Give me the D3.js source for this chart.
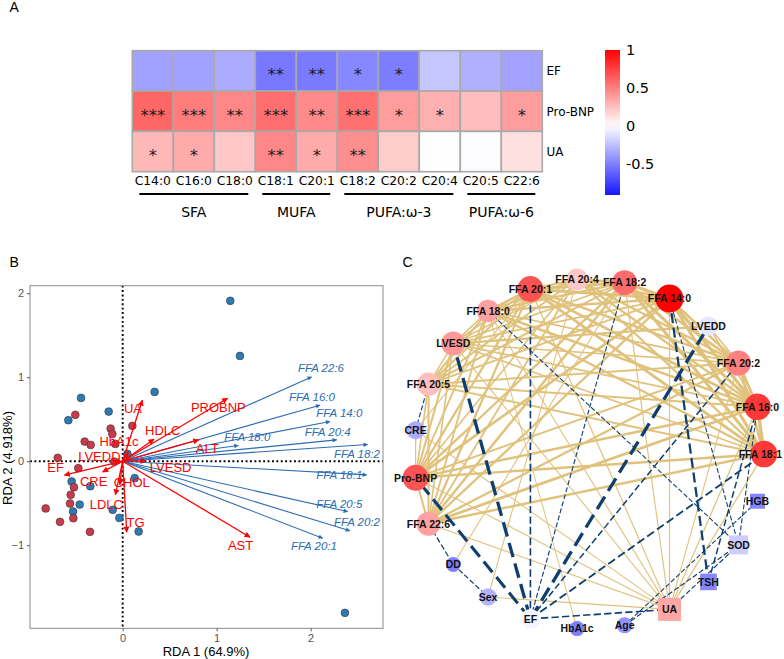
<!DOCTYPE html>
<html lang="en">
<head>
<meta charset="UTF-8">
<style>
    body {margin: 0; background: #ffffff;}
    svg {display: block;}
</style>
</head>
<body>
<div id="fig"></div>
<script src="https://d3js.org/d3.v7.min.js"></script>
<script>

// ---------- panel A : correlation heatmap ----------
var faCols = ["C14:0", "C16:0", "C18:0", "C18:1", "C20:1", "C18:2", "C20:2", "C20:4", "C20:5", "C22:6"];
var faRows = ["EF", "Pro-BNP", "UA"];
var corrEF  = [-0.37, -0.37, -0.33, -0.53, -0.52, -0.47, -0.51, -0.22, -0.31, -0.36];
var corrBNP = [0.60, 0.51, 0.47, 0.57, 0.46, 0.56, 0.39, 0.31, 0.26, 0.39];
var corrUA  = [0.28, 0.33, 0.22, 0.47, 0.33, 0.44, 0.20, 0.005, -0.01, 0.12];
var starsEF  = ["", "", "", "**", "**", "*", "*", "", "", ""];
var starsBNP = ["***", "***", "**", "***", "**", "***", "*", "*", "", "*"];
var starsUA  = ["*", "*", "", "**", "*", "**", "", "", "", ""];
var groupNames = ["SFA", "MUFA", "PUFA:\u03c9-3", "PUFA:\u03c9-6"];
var groupFirst = ["C14:0", "C18:1", "C18:2", "C20:5"];
var groupLast  = ["C18:0", "C20:1", "C20:4", "C22:6"];
var legendTicks = [1, 0.5, 0, -0.5];

// ---------- panel B : RDA biplot ----------
var blueX = [1.145, 1.248, 0.34, -0.443, -0.578, -0.149, 0.05, -0.543, -0.344, 0.128, -0.457, -0.528, -0.106, -0.035, 0.17, 2.365];
var blueY = [1.91, 1.254, 0.825, 0.754, 0.488, 0.591, 0.087, -0.242, -0.298, -0.202, -0.516, -0.599, -0.579, -0.675, -0.837, -1.806];
var redX = [-0.504, -0.128, -0.11, -0.078, -0.404, -0.34, 0.103, -0.691, -0.472, -0.09, -0.518, -0.553, -0.56, -0.525, -0.819, -0.667, -0.348];
var redY = [0.552, 0.389, 0.325, 0.206, 0.234, 0.194, 0.421, 0.04, -0.083, -0.004, -0.31, -0.4, -0.504, -0.679, -0.563, -0.722, -0.841];

var envNames = ["UA", "PROBNP", "HDLC", "HbA1c", "ALT", "LVEDD", "LVESD", "EF", "CRE", "CHOL", "LDLC", "TG", "AST"];
var envX = [0.209, 1.117, 0.333, 0.06, 0.809, -0.09, 0.248, -0.62, -0.213, -0.03, -0.078, 0.043, 1.355];
var envY = [0.726, 0.75, 0.262, 0.11, 0.254, 0.0, 0.004, -0.167, -0.127, -0.28, -0.4, -0.845, -0.905];
var envLabX = [0.11, 1.018, 0.426, -0.039, 0.9, -0.248, 0.511, -0.713, -0.309, 0.096, -0.174, 0.138, 1.255];
var envLabY = [0.623, 0.643, 0.369, 0.23, 0.147, 0.056, -0.071, -0.071, -0.246, -0.258, -0.512, -0.734, -1.008];

var ffaNames = ["FFA 22:6", "FFA 16:0", "FFA 14:0", "FFA 20:4", "FFA 18:0", "FFA 18:2", "FFA 18:1", "FFA 20:5", "FFA 20:2", "FFA 20:1"];
var ffaX = [2.01, 2.1, 2.206, 2.277, 1.23, 2.606, 2.596, 2.394, 2.418, 2.128];
var ffaY = [1.004, 0.667, 0.472, 0.254, 0.187, 0.198, -0.163, -0.6, -0.829, -0.917];
var ffaLabX = [2.11, 2.014, 2.305, 2.181, 1.326, 2.493, 2.305, 2.305, 2.493, 2.035];
var ffaLabY = [1.107, 0.77, 0.571, 0.353, 0.286, 0.091, -0.163, -0.504, -0.726, -1.012];
var rdaTicksX = [0, 1, 2];
var rdaTicksY = [-1, 0, 1, 2];

// ---------- panel C : correlation network (circular layout order) ----------
var netNodes = ["FFA 18:1", "FFA 16:0", "FFA 20:2", "LVEDD", "FFA 14:0", "FFA 18:2", "FFA 20:4", "FFA 20:1",
    "FFA 18:0", "LVESD", "FFA 20:5", "CRE", "Pro-BNP", "FFA 22:6", "DD", "Sex", "EF", "HbA1c", "Age", "UA",
    "TSH", "SOD", "HGB"];
var netValue = [0.78, 0.78, 0.5, -0.1, 1.0, 0.58, 0.21, 0.68, 0.37, 0.4, 0.25, -0.33, 0.67, 0.37, -0.5,
    -0.3, -0.04, -0.5, -0.43, 0.35, -0.48, -0.2, -0.48];
var netSize = [13.3, 13.3, 12.5, 9.7, 14, 12.5, 11, 13, 11.3, 12, 11.7, 9, 13, 12, 7.5, 8.7, 10, 7.5, 8, 11.5, 8.3, 9.5, 7.5];
var netShape = ["c", "c", "c", "c", "c", "c", "c", "c", "c", "c", "c", "c", "c", "c", "c", "c", "c", "c", "c", "s", "s", "s", "s"];

var edgeFrom = [
    "FFA 18:1", "FFA 18:1", "FFA 18:1", "FFA 18:1", "FFA 18:1", "FFA 18:1", "FFA 18:1", "FFA 18:1", "FFA 18:1",
    "FFA 16:0", "FFA 16:0", "FFA 16:0", "FFA 16:0", "FFA 16:0", "FFA 16:0", "FFA 16:0", "FFA 16:0",
    "FFA 20:2", "FFA 20:2", "FFA 20:2", "FFA 20:2", "FFA 20:2", "FFA 20:2", "FFA 20:2",
    "FFA 14:0", "FFA 14:0", "FFA 14:0", "FFA 14:0", "FFA 14:0", "FFA 14:0",
    "FFA 18:2", "FFA 18:2", "FFA 18:2", "FFA 18:2", "FFA 18:2",
    "FFA 20:4", "FFA 20:4", "FFA 20:4", "FFA 20:4",
    "FFA 20:1", "FFA 20:1", "FFA 20:1",
    "FFA 18:0", "FFA 18:0", "FFA 20:5",
    "Pro-BNP", "Pro-BNP", "Pro-BNP", "Pro-BNP", "Pro-BNP", "Pro-BNP", "Pro-BNP", "Pro-BNP", "Pro-BNP", "Pro-BNP",
    "LVESD", "LVESD", "LVESD", "LVESD", "LVESD", "LVESD", "LVESD", "LVESD", "LVESD", "LVESD", "LVESD", "LVESD",
    "UA", "UA", "UA", "UA", "UA", "UA", "UA", "UA", "UA", "UA",
    "Sex", "Sex", "DD", "CRE", "CRE", "CRE", "HbA1c", "LVEDD", "LVEDD",
    "EF", "EF", "EF", "EF", "EF", "EF", "EF", "EF",
    "FFA 18:0", "FFA 14:0", "FFA 14:0", "FFA 16:0", "FFA 16:0", "FFA 20:5", "FFA 22:6", "DD", "Age", "Age", "UA"];
var edgeTo = [
    "FFA 16:0", "FFA 20:2", "FFA 14:0", "FFA 18:2", "FFA 20:4", "FFA 20:1", "FFA 18:0", "FFA 20:5", "FFA 22:6",
    "FFA 20:2", "FFA 14:0", "FFA 18:2", "FFA 20:4", "FFA 20:1", "FFA 18:0", "FFA 20:5", "FFA 22:6",
    "FFA 14:0", "FFA 18:2", "FFA 20:4", "FFA 20:1", "FFA 18:0", "FFA 20:5", "FFA 22:6",
    "FFA 18:2", "FFA 20:4", "FFA 20:1", "FFA 18:0", "FFA 20:5", "FFA 22:6",
    "FFA 20:4", "FFA 20:1", "FFA 18:0", "FFA 20:5", "FFA 22:6",
    "FFA 20:1", "FFA 18:0", "FFA 20:5", "FFA 22:6",
    "FFA 18:0", "FFA 20:5", "FFA 22:6",
    "FFA 20:5", "FFA 22:6", "FFA 22:6",
    "FFA 18:1", "FFA 16:0", "FFA 20:2", "FFA 14:0", "FFA 18:2", "FFA 20:4", "FFA 20:1", "FFA 18:0", "FFA 20:5", "FFA 22:6",
    "FFA 18:1", "FFA 16:0", "FFA 20:2", "FFA 14:0", "FFA 18:2", "FFA 20:4", "FFA 20:1", "FFA 18:0", "FFA 20:5", "FFA 22:6", "Pro-BNP", "LVEDD",
    "FFA 14:0", "FFA 16:0", "FFA 18:1", "FFA 18:2", "FFA 20:1", "FFA 18:0", "FFA 22:6", "LVESD", "Pro-BNP", "FFA 20:2",
    "UA", "FFA 20:4", "FFA 18:2", "UA", "FFA 20:1", "Pro-BNP", "FFA 18:0", "FFA 20:2", "FFA 16:0",
    "FFA 20:1", "LVESD", "Pro-BNP", "LVEDD", "FFA 18:2", "FFA 20:2", "FFA 18:1", "UA",
    "SOD", "TSH", "SOD", "TSH", "SOD", "CRE", "DD", "Sex", "SOD", "HGB", "SOD"];
var edgeWeight = [
    0.9, 0.7, 0.8, 0.8, 0.55, 0.75, 0.6, 0.5, 0.65,
    0.75, 0.85, 0.8, 0.6, 0.7, 0.65, 0.5, 0.7,
    0.7, 0.7, 0.6, 0.65, 0.5, 0.55, 0.6,
    0.85, 0.6, 0.75, 0.65, 0.5, 0.6,
    0.7, 0.75, 0.6, 0.55, 0.65,
    0.6, 0.55, 0.5, 0.5,
    0.7, 0.55, 0.6,
    0.55, 0.5, 0.55,
    0.65, 0.65, 0.55, 0.7, 0.6, 0.45, 0.6, 0.5, 0.45, 0.55,
    0.45, 0.5, 0.45, 0.5, 0.45, 0.4, 0.5, 0.45, 0.4, 0.45, 0.55, 0.6,
    0.35, 0.35, 0.35, 0.33, 0.35, 0.32, 0.33, 0.32, 0.33, 0.32,
    0.32, 0.32, 0.32, 0.32, 0.32, 0.35, 0.3, 0.45, 0.4,
    -0.45, -0.85, -0.8, -0.85, -0.33, -0.42, -0.5, -0.45,
    -0.32, -0.6, -0.32, -0.42, -0.32, -0.33, -0.36, -0.34, -0.34, -0.32, -0.34];

// ---------- drawing ----------
var svg = d3.select("#fig").append("svg")
    .attr("width", 784)
    .attr("height", 659)
    .style("font-family", "'Liberation Sans', Arial, sans-serif");

var corrColor = d3.scaleLinear().domain([-1, 0, 1]).range(["#0000ff", "#ffffff", "#ff0000"]);

// panel labels
svg.append("text").attr("x", 9.5).attr("y", 11.5).attr("font-size", 14).text("A");
svg.append("text").attr("x", 9.5).attr("y", 266.7).attr("font-size", 14).text("B");
svg.append("text").attr("x", 402.5).attr("y", 266.7).attr("font-size", 14).text("C");

// ===== panel A =====
var heat = svg.append("g").style("font-family", "'DejaVu Sans', sans-serif");
var hx = d3.scaleBand().domain(faCols).range([132.3, 542.3]);
var hy = d3.scaleBand().domain(faRows).range([50.7, 171.7]);
var corrRows = [corrEF, corrBNP, corrUA];
var starRows = [starsEF, starsBNP, starsUA];

var cells = [];
faRows.forEach(function (r, i) {
    faCols.forEach(function (c, j) {
        cells.push({row: r, col: c, v: corrRows[i][j], s: starRows[i][j]});
    });
});

heat.selectAll(".cell")
    .data(cells)
    .enter().append("rect")
    .attr("class", "cell")
    .attr("x", function (d) { return hx(d.col); })
    .attr("y", function (d) { return hy(d.row); })
    .attr("width", hx.bandwidth())
    .attr("height", hy.bandwidth())
    .attr("fill", function (d) { return corrColor(d.v); })
    .attr("stroke", "#a9a9a9")
    .attr("stroke-width", 1.6);

heat.selectAll(".star")
    .data(cells)
    .enter().append("text")
    .attr("class", "star")
    .attr("x", function (d) { return hx(d.col) + hx.bandwidth() / 2; })
    .attr("y", function (d) { return hy(d.row) + hy.bandwidth() / 2 + 9.5; })
    .attr("text-anchor", "middle")
    .attr("font-size", 16.5)
    .attr("fill", "#1a1a1a")
    .text(function (d) { return d.s; });

// row names on the right
heat.selectAll(".rowlab")
    .data(faRows)
    .enter().append("text")
    .attr("x", 546.5)
    .attr("y", function (d) { return hy(d) + hy.bandwidth() / 2 + 4.3; })
    .attr("font-size", 12)
    .text(function (d) { return d; });

// column names
heat.selectAll(".collab")
    .data(faCols)
    .enter().append("text")
    .attr("x", function (d) { return hx(d) + hx.bandwidth() / 2; })
    .attr("y", 184.5)
    .attr("text-anchor", "middle")
    .attr("font-size", 12.3)
    .text(function (d) { return d; });

// fatty acid groups
groupNames.forEach(function (g, i) {
    var x1 = hx(groupFirst[i]) + 7;
    var x2 = hx(groupLast[i]) + hx.bandwidth() - 7;
    heat.append("line")
        .attr("x1", x1).attr("x2", x2)
        .attr("y1", 194).attr("y2", 194)
        .attr("stroke", "#000").attr("stroke-width", 2.2);
    heat.append("text")
        .attr("x", (x1 + x2) / 2)
        .attr("y", 217)
        .attr("text-anchor", "middle")
        .attr("font-size", 14)
        .text(g);
});

// colour legend
var cb = d3.scaleLinear().domain([-0.91, 1]).range([195, 50]);
var grad = svg.append("defs").append("linearGradient")
    .attr("id", "cbgrad")
    .attr("x1", 0).attr("x2", 0).attr("y1", 1).attr("y2", 0);
d3.range(0, 21).forEach(function (k) {
    var v = -0.91 + k * (1.91 / 20);
    grad.append("stop")
        .attr("offset", (k / 20 * 100) + "%")
        .attr("stop-color", corrColor(v));
});
heat.append("rect")
    .attr("x", 605).attr("y", 50)
    .attr("width", 15).attr("height", 145)
    .attr("fill", "url(#cbgrad)");
var cbAxis = heat.append("g")
    .attr("transform", "translate(620,0)")
    .call(d3.axisRight(cb).tickValues(legendTicks).tickSize(0).tickPadding(6)
        .tickFormat(function (d) { return d === 0 ? "0" : String(d); }));
cbAxis.select(".domain").remove();
cbAxis.selectAll("text")
    .attr("font-size", 14.5)
    .attr("fill", "#000")
    .style("font-family", "'DejaVu Sans', sans-serif");

// ===== panel B =====
var rda = svg.append("g");
var bx = d3.scaleLinear().domain([-0.986, 2.77]).range([30, 383]);
var by = d3.scaleLinear().domain([-1.99, 2.09]).range([628.3, 285.7]);

// dotted zero lines
rda.append("line")
    .attr("x1", bx(0)).attr("x2", bx(0))
    .attr("y1", by.range()[1]).attr("y2", by.range()[0])
    .attr("stroke", "#000").attr("stroke-width", 1.9)
    .attr("stroke-dasharray", "1.9 2.5");
rda.append("line")
    .attr("x1", bx.range()[0]).attr("x2", bx.range()[1])
    .attr("y1", by(0)).attr("y2", by(0))
    .attr("stroke", "#000").attr("stroke-width", 1.9)
    .attr("stroke-dasharray", "1.9 2.5");

// sample points
var samples = [];
blueX.forEach(function (v, i) { samples.push({x: v, y: blueY[i], c: "#2c7bb6"}); });
redX.forEach(function (v, i) { samples.push({x: v, y: redY[i], c: "#c93a4b"}); });
rda.selectAll(".pt")
    .data(samples)
    .enter().append("circle")
    .attr("cx", function (d) { return bx(d.x); })
    .attr("cy", function (d) { return by(d.y); })
    .attr("r", 3.9)
    .attr("fill", function (d) { return d.c; })
    .attr("stroke", "#333")
    .attr("stroke-width", 0.6);

// arrow heads
var defs = svg.select("defs");
defs.append("marker")
    .attr("id", "headRed")
    .attr("viewBox", "0 0 10 10")
    .attr("refX", 9).attr("refY", 5)
    .attr("markerUnits", "userSpaceOnUse")
    .attr("markerWidth", 7).attr("markerHeight", 6)
    .attr("orient", "auto")
    .append("path").attr("d", "M0,0 L10,5 L0,10 Z").attr("fill", "#ff0000");
defs.append("marker")
    .attr("id", "headBlue")
    .attr("viewBox", "0 0 10 10")
    .attr("refX", 9).attr("refY", 5)
    .attr("markerUnits", "userSpaceOnUse")
    .attr("markerWidth", 6).attr("markerHeight", 4.5)
    .attr("orient", "auto")
    .append("path").attr("d", "M0,0 L10,5 L0,10 Z").attr("fill", "#2b6cb3");

// FFA arrows
rda.selectAll(".ffa")
    .data(ffaNames)
    .enter().append("line")
    .attr("x1", bx(0)).attr("y1", by(0))
    .attr("x2", function (d, i) { return bx(ffaX[i]); })
    .attr("y2", function (d, i) { return by(ffaY[i]); })
    .attr("stroke", "#2b6cb3")
    .attr("stroke-width", 1.1)
    .attr("marker-end", "url(#headBlue)");

// clinical arrows
rda.selectAll(".env")
    .data(envNames)
    .enter().append("line")
    .attr("x1", bx(0)).attr("y1", by(0))
    .attr("x2", function (d, i) { return bx(envX[i]); })
    .attr("y2", function (d, i) { return by(envY[i]); })
    .attr("stroke", "#ff0000")
    .attr("stroke-width", 1.3)
    .attr("marker-end", "url(#headRed)");

rda.selectAll(".ffalab")
    .data(ffaNames)
    .enter().append("text")
    .attr("x", function (d, i) { return bx(ffaLabX[i]); })
    .attr("y", function (d, i) { return by(ffaLabY[i]) + 4; })
    .attr("text-anchor", "middle")
    .attr("font-size", 11.5)
    .attr("font-style", "italic")
    .attr("fill", "#2b6cb3")
    .text(function (d) { return d; });

rda.selectAll(".envlab")
    .data(envNames)
    .enter().append("text")
    .attr("x", function (d, i) { return bx(envLabX[i]); })
    .attr("y", function (d, i) { return by(envLabY[i]) + 4.6; })
    .attr("text-anchor", "middle")
    .attr("font-size", 13)
    .attr("fill", "#ff0000")
    .text(function (d) { return d; });

// frame and axes
rda.append("rect")
    .attr("x", 30).attr("y", 285.7)
    .attr("width", 353).attr("height", 342.6)
    .attr("fill", "none")
    .attr("stroke", "#8a8a8a")
    .attr("stroke-width", 1);

var axB = rda.append("g")
    .attr("transform", "translate(0," + by.range()[0] + ")")
    .call(d3.axisBottom(bx).tickValues(rdaTicksX).tickSize(3).tickPadding(3).tickFormat(d3.format("d")));
var axL = rda.append("g")
    .attr("transform", "translate(" + bx.range()[0] + ",0)")
    .call(d3.axisLeft(by).tickValues(rdaTicksY).tickSize(3).tickPadding(3).tickFormat(d3.format("d")));
[axB, axL].forEach(function (a) {
    a.select(".domain").remove();
    a.selectAll("line").attr("stroke", "#555");
    a.selectAll("text").attr("fill", "#555").attr("font-size", 11)
        .style("font-family", "'Liberation Sans', Arial, sans-serif");
});

rda.append("text")
    .attr("x", 206).attr("y", 656)
    .attr("text-anchor", "middle")
    .attr("font-size", 13)
    .text("RDA 1 (64.9%)");
rda.append("text")
    .attr("transform", "translate(12,458) rotate(-90)")
    .attr("text-anchor", "middle")
    .attr("font-size", 13)
    .text("RDA 2 (4.918%)");

// ===== panel C =====
var net = svg.append("g");
var netCx = 589, netCy = 454, netR = 175;
var angle = d3.scaleLinear().domain([0, netNodes.length]).range([0, 2 * Math.PI]);
var nodes = netNodes.map(function (n, i) {
    return {
        name: n,
        x: netCx + netR * Math.cos(angle(i)),
        y: netCy - netR * Math.sin(angle(i)),
        v: netValue[i], r: netSize[i], shape: netShape[i]
    };
});
var byName = {};
nodes.forEach(function (n) { byName[n.name] = n; });

var edges = edgeFrom.map(function (f, i) {
    return {s: byName[f], t: byName[edgeTo[i]], w: edgeWeight[i]};
});
var edgeWidth = d3.scaleLinear().domain([0.3, 0.9]).range([1.0, 3.5]);

net.selectAll(".pos")
    .data(edges.filter(function (e) { return e.w > 0; }))
    .enter().append("line")
    .attr("x1", function (d) { return d.s.x; })
    .attr("y1", function (d) { return d.s.y; })
    .attr("x2", function (d) { return d.t.x; })
    .attr("y2", function (d) { return d.t.y; })
    .attr("stroke", "#e0c27c")
    .attr("stroke-width", function (d) { return edgeWidth(d.w); });

net.selectAll(".neg")
    .data(edges.filter(function (e) { return e.w < 0; }))
    .enter().append("line")
    .attr("x1", function (d) { return d.s.x; })
    .attr("y1", function (d) { return d.s.y; })
    .attr("x2", function (d) { return d.t.x; })
    .attr("y2", function (d) { return d.t.y; })
    .attr("stroke", "#0f3f70")
    .attr("stroke-width", function (d) { return edgeWidth(-d.w); })
    .attr("stroke-dasharray", function (d) {
        var w = edgeWidth(-d.w);
        return (4.5 * w) + " " + (2 * w);
    });

net.selectAll(".node")
    .data(nodes.filter(function (n) { return n.shape === "c"; }))
    .enter().append("circle")
    .attr("cx", function (d) { return d.x; })
    .attr("cy", function (d) { return d.y; })
    .attr("r", function (d) { return d.r; })
    .attr("fill", function (d) { return corrColor(d.v); });

net.selectAll(".sq")
    .data(nodes.filter(function (n) { return n.shape === "s"; }))
    .enter().append("rect")
    .attr("x", function (d) { return d.x - d.r; })
    .attr("y", function (d) { return d.y - d.r; })
    .attr("width", function (d) { return 2 * d.r; })
    .attr("height", function (d) { return 2 * d.r; })
    .attr("fill", function (d) { return corrColor(d.v); });

net.selectAll(".nlab")
    .data(nodes)
    .enter().append("text")
    .attr("x", function (d) { return d.x; })
    .attr("y", function (d) { return d.y + 3.8; })
    .attr("text-anchor", "middle")
    .attr("font-size", 10.5)
    .attr("font-weight", "bold")
    .attr("fill", "#111")
    .text(function (d) { return d.name; })
    .each(function () {
        // keep labels on the right rim inside the picture
        var w = this.getComputedTextLength();
        var x = +this.getAttribute("x");
        if (x + w / 2 > 782) { this.setAttribute("x", 782 - w / 2); }
    });

</script>
</body>
</html>
